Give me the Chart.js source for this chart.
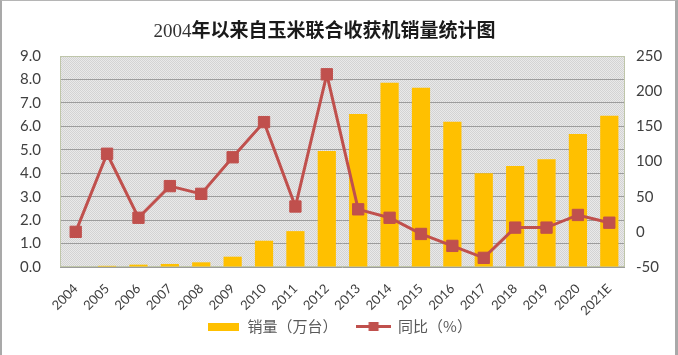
<!DOCTYPE html>
<html><head><meta charset="utf-8">
<script src="https://cdn.jsdelivr.net/npm/chart.js@4/dist/chart.umd.min.js"></script>
<style>
html,body{margin:0;padding:0;background:#fff;}
#wrap{position:relative;width:678px;height:355px;overflow:hidden;background:#fff;}
#frame{position:absolute;left:0;top:0;width:678px;height:370px;box-sizing:border-box;border-left:2px solid #a9a9a9;border-top:1px solid #b5b5b5;border-right:3px solid #a9a9a9;pointer-events:none;}
#title{position:absolute;top:18px;left:0;width:649px;text-align:center;font-size:19px;line-height:22px;color:#1a1a1a;white-space:nowrap;}
#title .d{font-family:"Liberation Serif","DejaVu Serif",serif;color:#333;}
#title .c{font-family:"Noto Sans CJK SC",sans-serif;font-weight:bold;}
canvas{position:absolute;left:0;top:0;}
</style></head>
<body>
<div id="wrap">
<canvas id="c" width="678" height="355"></canvas>
<div id="title"><span class="d">2004</span><span class="c">年以来自玉米联合收获机销量统计图</span></div>
<div id="frame"></div>
</div>
<script>
const categories = ["2004","2005","2006","2007","2008","2009","2010","2011","2012","2013","2014","2015","2016","2017","2018","2019","2020","2021E"];
const salesValues = [0, 0.05, 0.1, 0.13, 0.2, 0.44, 1.12, 1.53, 4.95, 6.53, 7.86, 7.65, 6.2, 4.0, 4.31, 4.6, 5.67, 6.45];
const yoyValues = [0, 111, 20, 65, 54, 106, 156, 36, 224, 32, 20, -3, -20, -37, 6, 6, 24, 13];
const leftTicks = [0,1,2,3,4,5,6,7,8,9];
const rightTicks = [-50,0,50,100,150,200,250];
const seriesNames = ["销量（万台）","同比（%）"];

const BAR = '#FFC000', LINE = '#C0504D';

function makePattern(){
  const p = document.createElement('canvas'); p.width = 2; p.height = 2;
  const g = p.getContext('2d');
  g.fillStyle = '#e9e9e9'; g.fillRect(0,0,2,2);
  g.fillStyle = '#d3d3d3'; g.fillRect(0,0,1,1); g.fillRect(1,1,1,1);
  return p;
}
const patCanvas = makePattern();

function legendBar(){
  const c = document.createElement('canvas'); c.width = 31; c.height = 8;
  const g = c.getContext('2d'); g.fillStyle = BAR; g.fillRect(0,0,31,8); return c;
}
function legendLine(){
  const c = document.createElement('canvas'); c.width = 35; c.height = 11;
  const g = c.getContext('2d');
  g.strokeStyle = LINE; g.lineWidth = 3; g.beginPath(); g.moveTo(0,5.5); g.lineTo(35,5.5); g.stroke();
  g.fillStyle = LINE; g.fillRect(12.5,1,10,9); return c;
}
const legendIcons = [legendBar(), legendLine()];

const plotBg = {
  id: 'plotBg',
  beforeDraw(chart){
    const {ctx, chartArea: a} = chart;
    ctx.save();
    ctx.fillStyle = ctx.createPattern(patCanvas, 'repeat');
    ctx.fillRect(a.left, a.top, a.right - a.left, a.bottom - a.top);
    ctx.restore();
  },
  beforeDatasetsDraw(chart){
    const {ctx, chartArea: a} = chart;
    ctx.save();
    ctx.strokeStyle = '#bfc6aa'; ctx.lineWidth = 1;
    ctx.strokeRect(a.left + 0.5, a.top + 0.5, a.right - a.left - 1, a.bottom - a.top - 1);
    ctx.restore();
  }
};

const tickFont = {family: 'Lato, "Open Sans", sans-serif', size: 15};

new Chart(document.getElementById('c'), {
  data: {
    labels: categories,
    datasets: [
      {type: 'line', label: seriesNames[1], data: yoyValues, yAxisID: 'y1', order: 0,
       borderColor: LINE, backgroundColor: LINE, borderWidth: 3,
       pointStyle: 'rect', pointRadius: 8, pointHoverRadius: 8, pointBorderWidth: 1,
       pointBackgroundColor: LINE, pointBorderColor: LINE, tension: 0},
      {type: 'bar', label: seriesNames[0], data: salesValues, yAxisID: 'y', order: 1,
       backgroundColor: BAR, borderWidth: 0, categoryPercentage: 1, barPercentage: 0.58}
    ]
  },
  options: {
    responsive: false, animation: false, devicePixelRatio: 1,
    layout: {padding: {top: 56, left: 0, right: 0, bottom: 11}},
    plugins: {
      title: {display: false}, tooltip: {enabled: false},
      legend: {
        position: 'bottom',
        labels: {
          usePointStyle: true, pointStyleWidth: 34, padding: 19,
          color: '#595959', font: {family: '"Noto Sans CJK SC", sans-serif', size: 15},
          generateLabels(chart){
            return [1, 0].map(i => ({
              text: chart.data.datasets[i].label,
              pointStyle: legendIcons[i === 1 ? 0 : 1],
              fillStyle: 'transparent', strokeStyle: 'transparent', lineWidth: 0,
              fontColor: '#595959', datasetIndex: i, hidden: false
            }));
          }
        }
      }
    },
    scales: {
      x: {
        grid: {display: false}, border: {display: false},
        ticks: {color: '#404040', font: {family: 'Lato, "Open Sans", sans-serif', size: 13}, minRotation: 45, maxRotation: 45, padding: 6, autoSkip: false},
        afterFit(s){ s.height = 33; s._computeLabelArea = () => undefined; }
      },
      y: {
        position: 'left', min: 0, max: 9,
        afterBuildTicks(s){ s.ticks = leftTicks.map(v => ({value: v})); },
        grid: {color: '#9c9c9c', lineWidth: 1, drawTicks: false},
        border: {display: false},
        ticks: {color: '#404040', font: tickFont, padding: 19, callback: v => v.toFixed(1)},
        afterFit(s){ s.width = 60; }
      },
      y1: {
        position: 'right', min: -50, max: 250,
        afterBuildTicks(s){ s.ticks = rightTicks.map(v => ({value: v})); },
        grid: {display: false, drawTicks: false}, border: {display: false},
        ticks: {color: '#404040', font: tickFont, padding: 11},
        afterFit(s){ s.width = 53; }
      }
    }
  },
  plugins: [plotBg]
});
</script>
</body></html>
